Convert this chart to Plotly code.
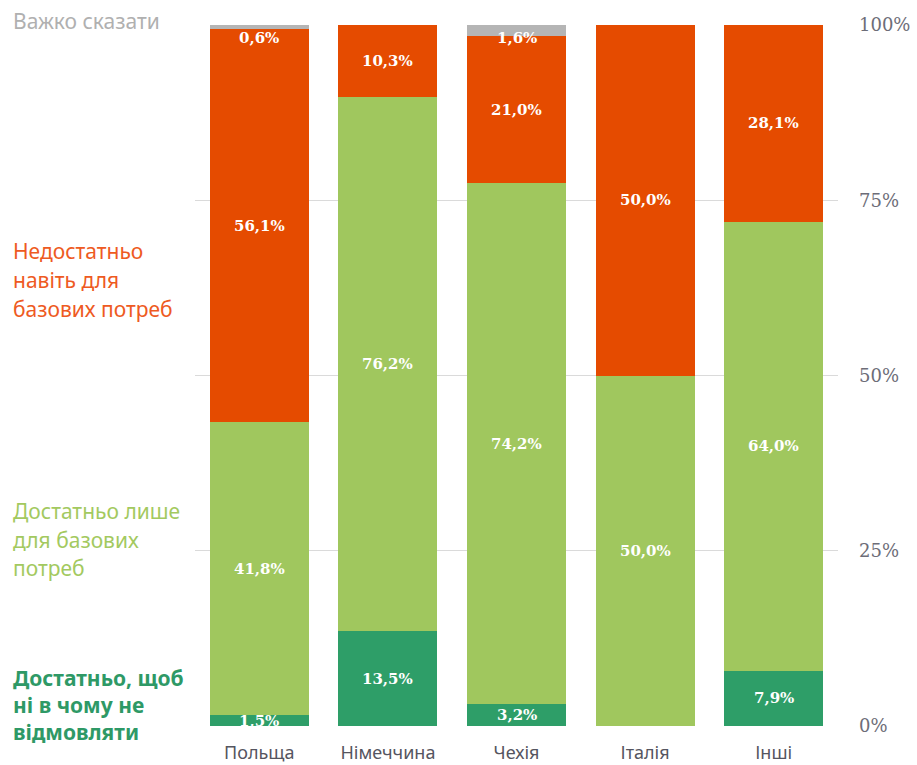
import plotly.graph_objects as go

categories = ["Польща", "Німеччина", "Чехія", "Італія", "Інші"]
dark_green = [1.5, 13.5, 3.2, 0.0, 7.9]
light_green = [41.8, 76.2, 74.2, 50.0, 64.0]
orange = [56.1, 10.3, 21.0, 50.0, 28.1]
grey = [0.6, 0.0, 1.6, 0.0, 0.0]

series_names = [
    "Достатньо, щоб ні в чому не відмовляти",
    "Достатньо лише для базових потреб",
    "Недостатньо навіть для базових потреб",
    "Важко сказати",
]
series_values = [dark_green, light_green, orange, grey]
bar_colors = ["#2E9E68", "#A0C75E", "#E54B00", "#B5B5B5"]
text_colors = ["#2E9966", "#A3C95F", "#EE5A22", "#B0B0B0"]
legend_lines = [
    ["Достатньо, щоб", "ні в чому не", "відмовляти"],
    ["Достатньо лише", "для базових", "потреб"],
    ["Недостатньо", "навіть для", "базових потреб"],
    ["Важко сказати"],
]
legend_px = [[678, 705, 732], [511, 540, 568], [251, 280, 309], [21]]
tick_vals = [0, 25, 50, 75, 100]
tick_text = ["0%", "25%", "50%", "75%", "100%"]

W, H = 917, 765
ml, mr, mt, mb = 195, 79, 25, 39
plot_w = W - ml - mr
plot_h = H - mt - mb

fig = go.Figure()
for name, vals, col in zip(series_names, series_values, bar_colors):
    fig.add_trace(go.Bar(
        x=categories, y=vals, name=name,
        marker=dict(color=col, line=dict(width=0)),
        hoverinfo="skip",
    ))

annotations = []
# segment value labels
for i, cat in enumerate(categories):
    base = 0.0
    for vals in series_values:
        v = vals[i]
        if v > 0:
            mid = base + v / 2
            mid = min(mid, 98.2)
            annotations.append(dict(
                x=cat, y=mid, xref="x", yref="y",
                text="<b>" + f"{v:.1f}%".replace(".", ",") + "</b>",
                showarrow=False,
                font=dict(family="DejaVu Serif", size=15, color="white"),
            ))
        base += v

# left-side legend labels
for lines, pys, col, idx in zip(legend_lines, legend_px, text_colors, range(4)):
    for line, py in zip(lines, pys):
        annotations.append(dict(
            x=(11 - ml) / plot_w, y=(H - mb - py) / plot_h,
            xref="paper", yref="paper",
            xanchor="left", yanchor="middle",
            text=f"<b>{line}</b>" if idx == 0 else line,
            showarrow=False,
            font=dict(family="Noto Sans", size=21, color=col),
        ))

fig.update_layout(
    barmode="stack",
    bargap=0.23,
    width=W, height=H,
    margin=dict(l=ml, r=mr, t=mt, b=mb, autoexpand=False),
    paper_bgcolor="white",
    plot_bgcolor="white",
    showlegend=False,
    annotations=annotations,
    xaxis=dict(
        automargin=False,
        showgrid=False, zeroline=False, showline=False,
        ticks="outside", ticklen=10, tickcolor="rgba(0,0,0,0)",
        tickfont=dict(family="Noto Sans", size=18, color="#555560"),
    ),
    yaxis=dict(
        automargin=False,
        side="right", range=[0, 100],
        tickvals=tick_vals, ticktext=tick_text,
        showgrid=True, gridcolor="#DADADA", gridwidth=1,
        zeroline=False, showline=False,
        ticklabelstandoff=20,
        tickfont=dict(family="DejaVu Serif", size=18, color="#6D6D78"),
    ),
)

fig.write_html("out.html")
